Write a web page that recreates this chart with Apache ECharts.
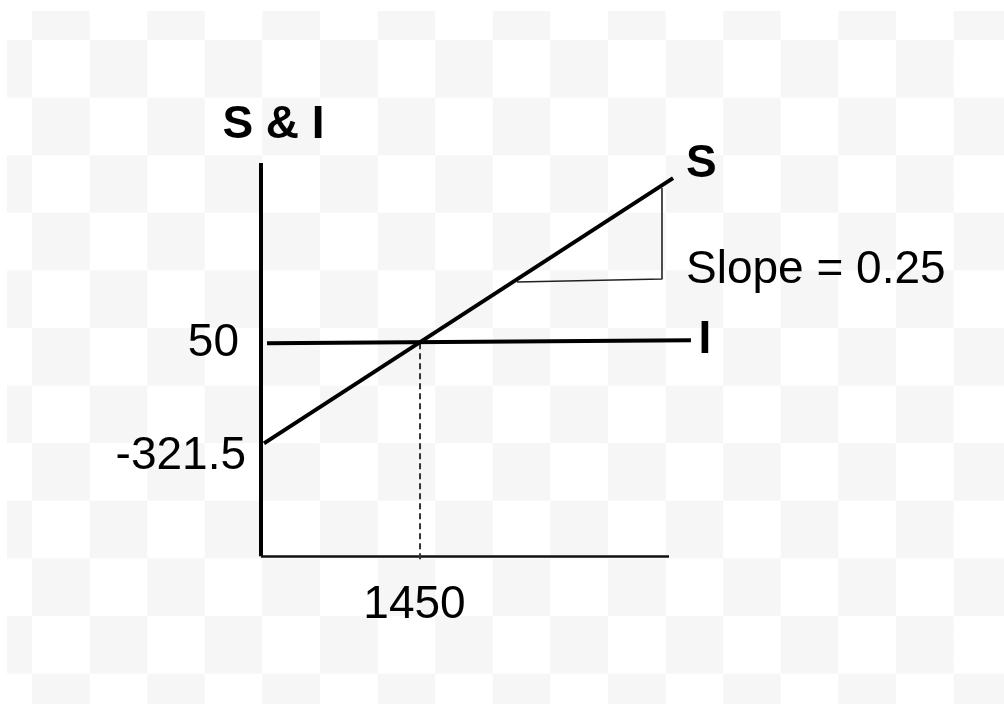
<!DOCTYPE html>
<html>
<head>
<meta charset="utf-8">
<title>S & I</title>
<script src="https://cdn.jsdelivr.net/npm/echarts@6/dist/echarts.min.js"></script>
<style>
  html, body { margin: 0; padding: 0; background: #ffffff; }
  #board {
    position: absolute;
    left: 7px;
    top: 11px;
    right: 0;
    bottom: 0;
    background: conic-gradient(#f6f6f6 25%, #ffffff 0 50%, #f6f6f6 0 75%, #ffffff 0);
    background-size: 115.2px 115.2px;
    background-position: 25px 29px;
  }
  #chart { position: absolute; left: 0; top: 0; width: 1004px; height: 704px; }
</style>
</head>
<body>
<div id="board"></div>
<div id="chart"></div>
<script>
// values (Y on the x axis, S & I on the y axis)
const xRange = [0, 3720];
const yRange = [-741, 720];
const xTicks = [1450];
const yTicks = [-321.5, 50];
const savingLine = [[27, -321.5], [3757, 664]];
const investLine = [[55, 50], [3920, 62]];
const equilibriumDrop = [[1450, 50], [1450, -766]];
const slopeTriangle = [[2334, 278], [3656, 289], [3656, 627]];
const slopeText = "Slope = 0.25";

const FONT = "'Liberation Sans', Arial, sans-serif";
const INK = "#000000";

const textStyle = (extra = {}) => ({
  color: INK,
  fontFamily: FONT,
  fontSize: 46,
  lineHeight: 46,
  ...extra,
});

const chart = echarts.init(document.getElementById("chart"), undefined, { renderer: "canvas" });

chart.setOption({
  animation: false,
  backgroundColor: "transparent",
  grid: {
    left: 261,
    right: 335,
    top: 163,
    bottom: 147.7,
    outerBoundsMode: "none",
  },
  xAxis: {
    type: "value",
    min: xRange[0],
    max: xRange[1],
    splitLine: { show: false },
    axisTick: { show: false },
    axisLine: { show: true, onZero: false, lineStyle: { color: "#111111", width: 2.5, cap: "butt" } },
    axisLabel: {
      customValues: xTicks,
      margin: 26,
      ...textStyle(),
      formatter: (value) => `{t|${value}}`,
      rich: { t: textStyle({ padding: [0, 11, 0, 0] }) },
    },
  },
  yAxis: {
    type: "value",
    min: yRange[0],
    max: yRange[1],
    name: "S & I",
    nameLocation: "end",
    nameGap: 15,
    nameTextStyle: textStyle({ fontWeight: "bold", padding: [0, 0, 0, 25] }),
    splitLine: { show: false },
    axisTick: { show: false },
    axisLine: { show: true, onZero: false, lineStyle: { color: INK, width: 4, cap: "butt" } },
    axisLabel: {
      customValues: yTicks,
      margin: 15,
      ...textStyle(),
      formatter: (value) => (value === 50 ? `{a|${value}}` : `{b|${value}}`),
      rich: {
        a: textStyle({ padding: [0, 7, 0, 0] }),
        b: textStyle({ padding: [26, 0, 0, 0] }),
      },
    },
  },
  series: [
    {
      name: "drop",
      type: "line",
      data: equilibriumDrop,
      clip: false,
      showSymbol: false,
      symbol: "none",
      lineStyle: { color: "#333333", width: 2, type: [6, 4] },
      z: 1,
    },
    {
      name: "triangle",
      type: "line",
      data: slopeTriangle.map((point, i) =>
        i === 1
          ? {
              value: point,
              label: {
                show: true,
                position: "right",
                distance: 24,
                offset: [0, -9],
                formatter: slopeText,
                ...textStyle(),
              },
            }
          : point,
      ),
      clip: false,
      showSymbol: true,
      symbol: "circle",
      symbolSize: 0,
      itemStyle: { color: INK, borderWidth: 0 },
      lineStyle: { color: "#222222", width: 1.6 },
      z: 2,
    },
    {
      name: "I",
      type: "lines",
      coordinateSystem: "cartesian2d",
      clip: false,
      data: [{ coords: investLine }],
      lineStyle: { color: INK, width: 4, opacity: 1, curveness: 0, cap: "butt" },
      label: {
        show: true,
        position: "end",
        distance: [7.5, 0],
        formatter: "I",
        ...textStyle({ fontWeight: "bold", padding: [0, 0, 4, 0] }),
      },
      z: 3,
    },
    {
      name: "S",
      type: "lines",
      coordinateSystem: "cartesian2d",
      clip: false,
      data: [{ coords: savingLine }],
      lineStyle: { color: INK, width: 4, opacity: 1, curveness: 0, cap: "butt" },
      label: {
        show: true,
        position: "end",
        distance: [15.5, 25.7],
        formatter: "S",
        ...textStyle({ fontWeight: "bold" }),
      },
      z: 4,
    },
  ],
});

window.addEventListener("resize", () => chart.resize());
</script>
</body>
</html>
